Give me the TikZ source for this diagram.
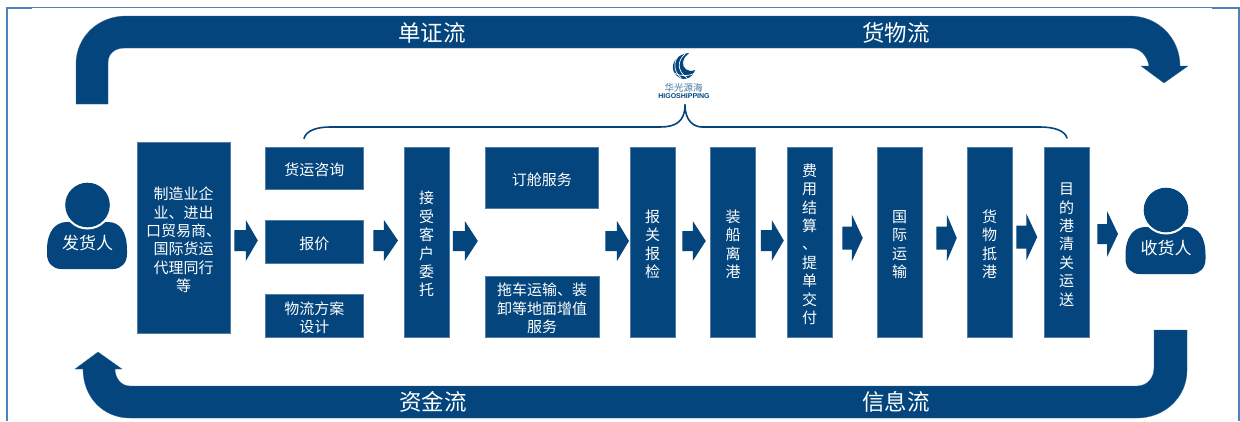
\documentclass[tikz,border=0pt]{standalone}
\usepackage{fontspec}
\setmainfont{Noto Sans CJK SC}
\newfontfamily\latinsans{Liberation Sans}
\usetikzlibrary{calc}
\definecolor{navy}{HTML}{03457C}
\definecolor{framec}{HTML}{4F81BD}
\newcommand{\dn}{\rule{0pt}{17pt}}
\tikzset{
  box/.style={fill=navy,draw=navy!70!white,line width=0.5pt,text=white,inner sep=0pt,align=center,
    font=\fontsize{15}{18.4}\selectfont},
  band/.style={fill=navy,draw=navy!80!white,line width=0.3pt},
  bandlabel/.style={text=white,inner sep=0pt,font=\fontsize{22.5}{24}\selectfont},
  personlabel/.style={text=white,inner sep=0pt,font=\fontsize{17}{19}\selectfont},
  blockarrow/.style={fill=navy},
  bracel/.style={draw=navy,line width=1.6pt,line cap=round},
}
% from, gap after it, to, gap before it, mid y, head half, stem half, head length
\newcommand{\blockarr}[8]{%
  \path[blockarrow] let \p1=(#1.east), \p2=(#3.west) in
    (\x1+#2pt,-#5pt-#7pt) -- (\x2-#4pt-#8pt,-#5pt-#7pt) -- (\x2-#4pt-#8pt,-#5pt-#6pt)
    -- (\x2-#4pt,-#5pt) -- (\x2-#4pt-#8pt,-#5pt+#6pt) -- (\x2-#4pt-#8pt,-#5pt+#7pt)
    -- (\x1+#2pt,-#5pt+#7pt) -- cycle;}
\newcommand{\personshape}{%
  \fill[navy] (47,250) .. controls (47,232) and (55,222) .. (67,222) -- (108,222)
    .. controls (120,222) and (127,232) .. (127,250) -- (127,254)
    .. controls (127,263) and (121,269) .. (113,269) -- (61,269)
    .. controls (53,269) and (47,263) .. (47,254) -- cycle;
  \fill[white] (87.5,205) circle[radius=24.5];
  \fill[navy] (87.5,205) circle[radius=22.3];}
\begin{document}
\begin{tikzpicture}[x=1pt,y=-1pt]
\useasboundingbox (0,0) rectangle (1240,421);
\fill[white] (0,0) rectangle (1240,421);
% frame
\draw[framec,line width=1.4pt] (7,421) -- (7,7.5) -- (1239,7.5) -- (1239,421);
\draw[framec,line width=2pt] (7,8) -- (32,8);
\draw[framec,line width=2pt] (1212,8) -- (1239,8);
% top band
\path[band] (76,104) -- (76,64) .. controls (76,37) and (98,16) .. (126,16) -- (1130,16)
  .. controls (1158,16) and (1180,38) .. (1180,66) -- (1188,66) -- (1164,83) -- (1141,66) -- (1149,66)
  .. controls (1147,55) and (1140,48) .. (1130,48) -- (125,48)
  .. controls (115,48) and (108,53) .. (108,63) -- (108,104) -- cycle;
% bottom band
\path[band] (1154,330) -- (1187,330) -- (1187,370) .. controls (1187,397) and (1165,418) .. (1137,418)
  -- (130,418) .. controls (103,418) and (83,397) .. (83,369) -- (75,369) -- (98,352) -- (122,369) -- (115,369)
  .. controls (115,378) and (121,386) .. (130,386) -- (1137,386)
  .. controls (1147,386) and (1154,378) .. (1154,368) -- cycle;
\node[bandlabel] (ldoc) at (432,33) {单证流};
\node[bandlabel] (lgoods) at (896,33) {货物流};
\node[bandlabel] (lfund) at (433,402) {资金流};
\node[bandlabel] (linfo) at (896,402) {信息流};
% persons
\personshape
\begin{scope}[shift={(1078.5,5)}]\personshape\end{scope}
\node[personlabel] (sender) at (87.5,243) {发货人};
\node[personlabel] (receiver) at (1166,248) {收货人};
\coordinate (recvedge) at (1125,248);
% boxes
\node[box,minimum width=93,minimum height=190.5] (maker) at (183.5,237.8) {\dn 制造业企\\业、进出\\口贸易商、\\国际货运\\代理同行\\等};
\node[box,minimum width=98.5,minimum height=42] (consult) at (314.3,168) {\dn 货运咨询};
\node[box,minimum width=98.5,minimum height=43] (quote) at (314.3,241.5) {\dn 报价};
\node[box,minimum width=98.5,minimum height=43] (plan) at (314.3,315.5) {\dn 物流方案\\设计};
\node[box,minimum width=45,minimum height=190] (accept) at (426.7,242) {\dn 接\\受\\客\\户\\委\\托};
\node[box,minimum width=113.5,minimum height=61] (booking) at (541.8,177.5) {\dn 订舱服务};
\node[box,minimum width=114,minimum height=61] (truck) at (542,306.5) {\dn 拖车运输、装\\卸等地面增值\\服务};
\node[box,minimum width=45,minimum height=190] (customs) at (652.7,242) {\dn 报\\关\\报\\检};
\node[box,minimum width=45,minimum height=190] (load) at (733,242) {\dn 装\\船\\离\\港};
\node[box,minimum width=45,minimum height=190] (fee) at (809.5,242) {\dn 费\\用\\结\\算\\、\\提\\单\\交\\付};
\node[box,minimum width=45,minimum height=190] (intl) at (899.5,242) {\dn 国\\际\\运\\输};
\node[box,minimum width=45,minimum height=190] (arrive) at (989.5,242) {\dn 货\\物\\抵\\港};
\node[box,minimum width=45,minimum height=190] (dest) at (1066.5,242) {\dn 目\\的\\港\\清\\关\\运\\送};
% block arrows
\blockarr{maker}{4}{quote}{7}{240.5}{20.5}{10.5}{12}
\blockarr{quote}{9.5}{accept}{6}{240.5}{20.5}{10.5}{14}
\blockarr{accept}{3.5}{booking}{7}{241}{20}{10}{13}
\blockarr{booking}{6.5}{customs}{1}{241}{20}{10}{12}
\blockarr{customs}{7}{load}{4.5}{241}{20}{10}{13}
\blockarr{load}{5}{fee}{3}{240.5}{20.5}{10.5}{12}
\blockarr{fee}{10}{intl}{14}{238}{23.5}{11.5}{11}
\blockarr{intl}{14}{arrive}{10}{238}{23.5}{11.5}{10}
\blockarr{arrive}{4}{dest}{6.5}{237}{23.5}{11.5}{11}
\blockarr{dest}{8}{recvedge}{7}{234}{23}{10}{11}
% brace
\coordinate (braceL) at (304,138.5);
\coordinate (braceR) at (1067,138);
\coordinate (braceT) at (685,105);
\draw[bracel] (braceL) .. controls (306,131) and (316,127) .. (330,127) -- (660,127)
  .. controls (675,127) and (685,122) .. (braceT);
\draw[bracel] (braceR) .. controls (1065,131) and (1055,127) .. (1040,127) -- (702,127)
  .. controls (695,127) and (685,122) .. (braceT);
% logo
\fill[navy] (689,53) .. controls (671,55) and (668,72) .. (680,78) .. controls (687,81) and (694,76) .. (695,70)
  .. controls (688,73) and (682,68) .. (683,62) .. controls (684,58) and (686,55) .. (689,53) -- cycle;
\draw[white,line width=0.7pt] (680,54) .. controls (673,61) and (673,71) .. (681,78);
\draw[white,line width=0.7pt] (685,54) .. controls (677,61) and (677,71) .. (687,78);
\draw[white,line width=0.7pt] (672,72) .. controls (678,76) and (688,77) .. (695,73);
\node[text=navy!75!white,inner sep=0pt,font=\fontsize{9.5}{10}\selectfont] (logocn) at (683.5,88) {华光源海};
\node[text=navy,inner sep=0pt,font=\latinsans\bfseries\fontsize{7}{8}\selectfont] (logoen) at (684,96) {HIGOSHIPPING};
\end{tikzpicture}
\end{document}
